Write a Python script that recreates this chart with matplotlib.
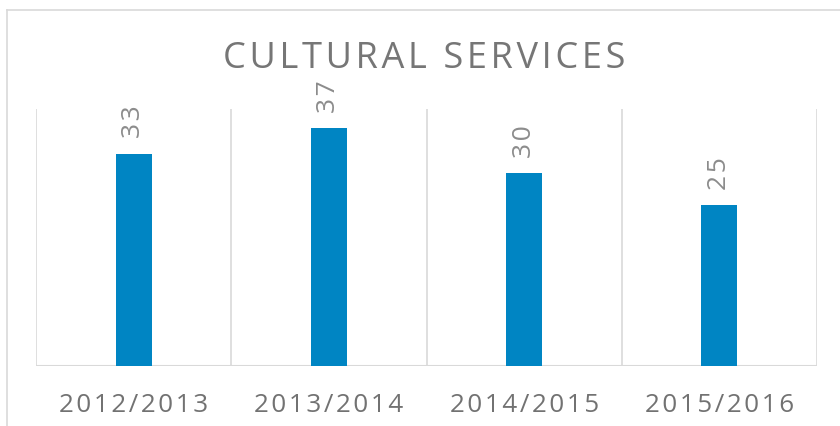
import matplotlib.pyplot as plt
from matplotlib.lines import Line2D

plt.rcParams['font.family'] = ['Open Sans', 'DejaVu Sans']

seasons = ['2012/2013', '2013/2014', '2014/2015', '2015/2016']
services = [33, 37, 30, 25]

BAR_COLOR = '#0085C3'
GRID_COLOR = '#D9D9D9'
HAIR = '\u200a'


def spaced(s, n=1):
    # widen the tracking a little by slipping hair spaces between letters
    return (HAIR * n).join(s)


fig = plt.figure(figsize=(8.4, 4.27), dpi=100)
W, H = 840, 427
ax = fig.add_axes([36 / W, (H - 367) / H, (817 - 36) / W, (367 - 110) / H])

x = range(len(seasons))
ax.bar(x, services, width=0.185, color=BAR_COLOR, zorder=3)

ax.set_xlim(-0.5, len(seasons) - 0.5)
ax.set_ylim(0, 40)

# category dividers
for b in [i - 0.5 for i in range(len(seasons) + 1)]:
    ax.axvline(b, color=GRID_COLOR, lw=1.2, zorder=1)
ax.axhline(0, color=GRID_COLOR, lw=1.5, zorder=2)

for s in ax.spines.values():
    s.set_visible(False)
ax.set_yticks([])
ax.set_xticks(list(x))
ax.set_xticklabels([spaced(s, 1) for s in seasons], fontsize=18.7, color='#727272')
ax.tick_params(axis='x', length=0, pad=19)

for i, v in enumerate(services):
    ax.annotate(spaced(str(v), 1), (i, v), xytext=(0, 12), textcoords='offset points',
                rotation=90, ha='center', va='bottom', fontsize=19, color='#8C8C8C')

fig.text(424 / W, 1 - 68 / H, spaced('CULTURAL SERVICES', 1), ha='center', va='baseline',
         fontsize=26, color='#767676')

# outer chart frame
fig.add_artist(Line2D([7 / W, 7 / W], [0, 1 - 11 / H], color=GRID_COLOR, lw=1.2,
                      transform=fig.transFigure))
fig.add_artist(Line2D([7 / W, 1], [1 - 11 / H, 1 - 11 / H], color=GRID_COLOR, lw=1.2,
                      transform=fig.transFigure))

fig.savefig('out.png', dpi=100, facecolor='white')
